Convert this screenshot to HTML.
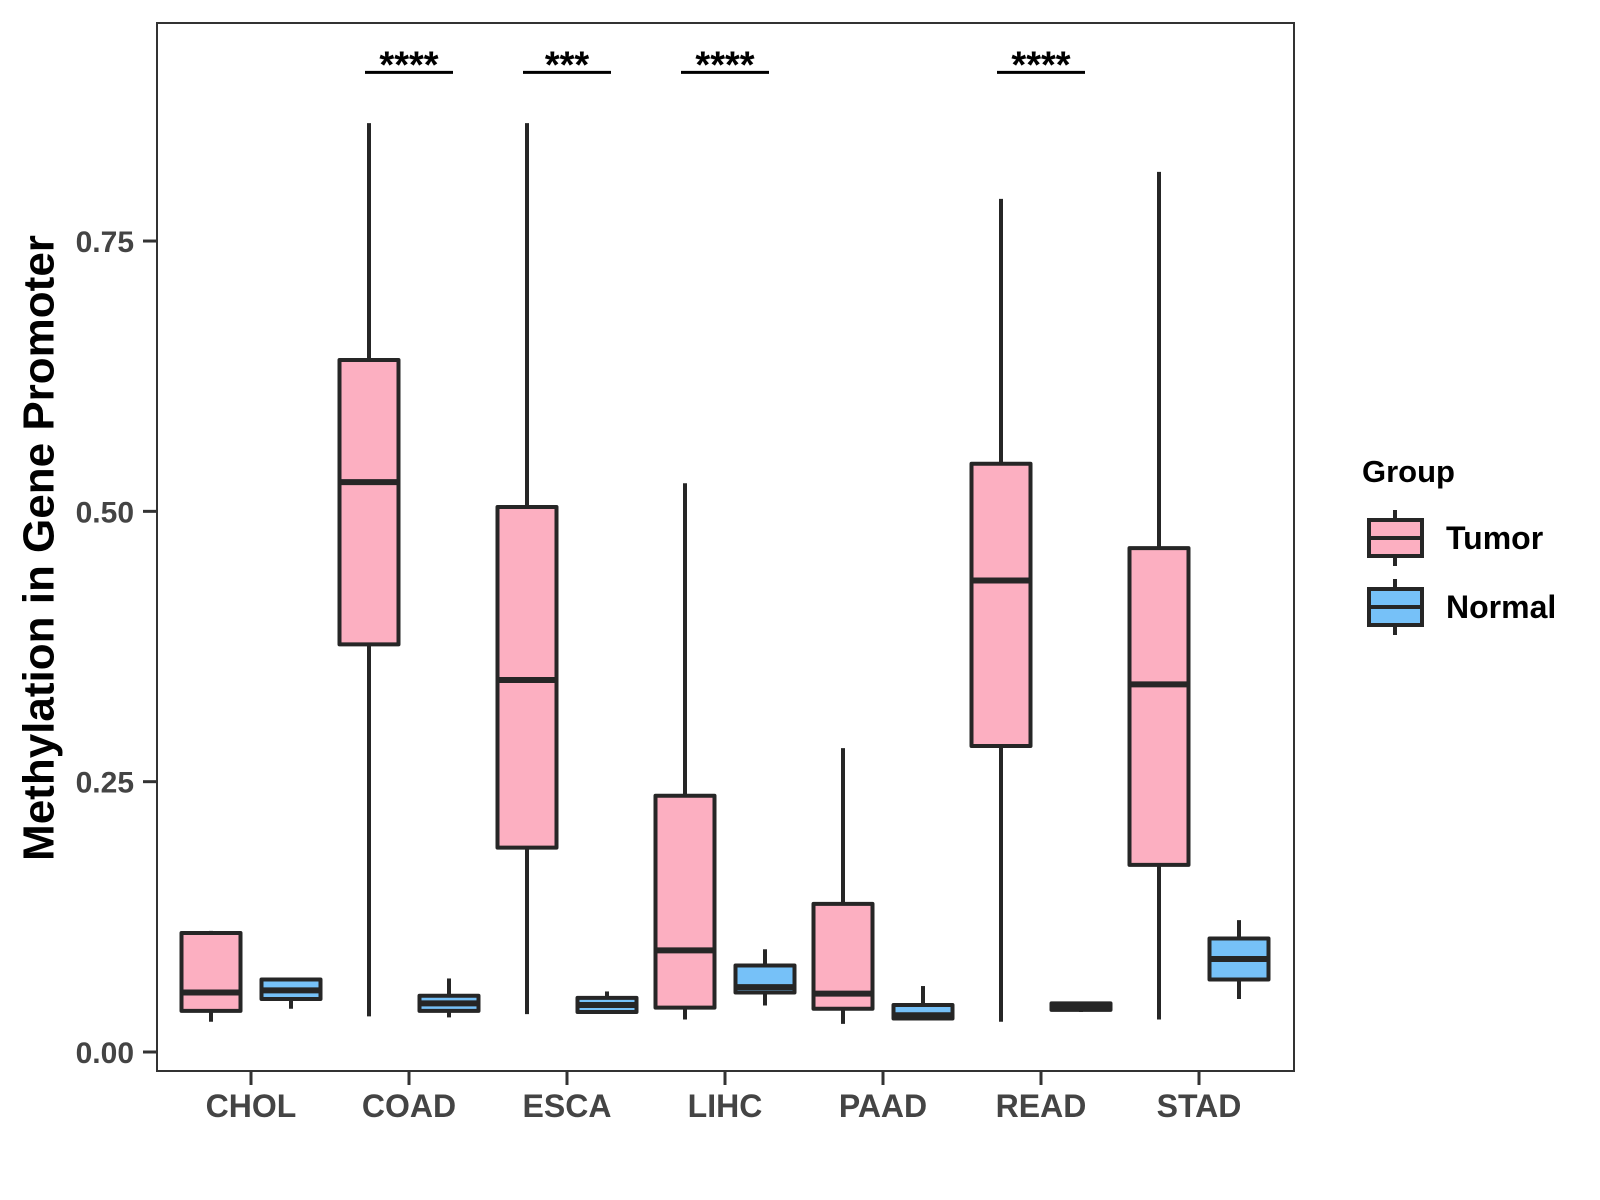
<!DOCTYPE html>
<html><head><meta charset="utf-8"><style>
html,body{margin:0;padding:0;background:#fff;width:1600px;height:1200px;overflow:hidden}
svg{display:block;font-family:"Liberation Sans",Arial,sans-serif}
</style></head><body>
<svg id="chart" width="1600" height="1200" viewBox="0 0 1600 1200">
<rect x="157" y="23" width="1137" height="1048" fill="#fff" stroke="#333" stroke-width="2"/>
<g id="marks"></g>
<g id="axes"></g>
<text x="39" y="548" transform="rotate(-90 39 548)" text-anchor="middle" dominant-baseline="central" font-size="44" font-weight="bold" fill="#000">Methylation in Gene Promoter</text>
<g>
<text x="1362" y="482" font-size="31" font-weight="bold" fill="#000">Group</text>
<g>
<line x1="1395" y1="510" x2="1395" y2="566" stroke="#262626" stroke-width="4"/>
<rect x="1369" y="520" width="53" height="36" fill="#fcafc1" stroke="#262626" stroke-width="4"/>
<line x1="1369" y1="538" x2="1422" y2="538" stroke="#262626" stroke-width="4"/>
<text x="1446" y="549" font-size="32" font-weight="bold" fill="#000">Tumor</text>
</g>
<g>
<line x1="1395" y1="579" x2="1395" y2="635" stroke="#262626" stroke-width="4"/>
<rect x="1369" y="589" width="53" height="36" fill="#76c1f8" stroke="#262626" stroke-width="4"/>
<line x1="1369" y1="607" x2="1422" y2="607" stroke="#262626" stroke-width="4"/>
<text x="1446" y="618" font-size="32" font-weight="bold" fill="#000">Normal</text>
</g>
</g>
</svg>
<script>
const categories=["CHOL","COAD","ESCA","LIHC","PAAD","READ","STAD"];
// [whiskerLow, q1, median, q3, whiskerHigh]
const tumorStats=[[0.028,0.038,0.055,0.110,0.112],[0.033,0.377,0.527,0.640,0.859],[0.035,0.189,0.344,0.504,0.859],[0.030,0.041,0.094,0.237,0.526],[0.026,0.040,0.054,0.137,0.281],[0.028,0.283,0.436,0.544,0.789],[0.030,0.173,0.340,0.466,0.814]];
const normalStats=[[0.040,0.049,0.057,0.067,0.067],[0.032,0.038,0.045,0.052,0.068],[0.036,0.037,0.0435,0.050,0.056],[0.043,0.055,0.060,0.080,0.095],[0.030,0.031,0.034,0.0435,0.061],[0.037,0.039,0.0425,0.045,0.046],[0.049,0.067,0.086,0.105,0.122]];
const yTicks=[0,0.25,0.5,0.75];
const yTickLabels=["0.00","0.25","0.50","0.75"];
const sigCategories=["COAD","ESCA","LIHC","READ"];
const sigLabels=["****","***","****","****"];
const sigLevel=0.906;

const NS="http://www.w3.org/2000/svg";
const y=v=>1052-v*1081.3;
const x=i=>251+i*158;
const marks=document.getElementById('marks'), axes=document.getElementById('axes');
function mk(tag,attrs,parent){const e=document.createElementNS(NS,tag);for(const k in attrs)e.setAttribute(k,attrs[k]);parent.appendChild(e);return e;}
function box(cx,s,fill,name){
  const g=mk('g',{},marks);
  
  
  const w=59;
  mk('line',{x1:cx,x2:cx,y1:y(s[4]),y2:y(s[0]),stroke:'#262626','stroke-width':4},g);
  mk('rect',{x:cx-w/2,y:y(s[3]),width:w,height:Math.max(1,y(s[1])-y(s[3])),fill:fill,stroke:'#262626','stroke-width':4,'stroke-linejoin':'round'},g);
  mk('line',{x1:cx-w/2,x2:cx+w/2,y1:y(s[2]),y2:y(s[2]),stroke:'#262626','stroke-width':6},g);
}
categories.forEach((c,i)=>{
  box(x(i)-40,tumorStats[i],'#fcafc1','box-tumor-'+c.toLowerCase());
  box(x(i)+40,normalStats[i],'#76c1f8','box-normal-'+c.toLowerCase());
  const t=mk('line',{x1:x(i),x2:x(i),y1:1071,y2:1085,stroke:'#333','stroke-width':3},axes);
  
  
  const l=mk('text',{x:x(i),y:1117,'text-anchor':'middle','font-size':32,'font-weight':'bold',fill:'#444'},axes);
  l.textContent=c;
  
  
});
yTicks.forEach((v,i)=>{
  const t=mk('line',{x1:143,x2:157,y1:y(v),y2:y(v),stroke:'#333','stroke-width':3},axes);
  
  
  const l=mk('text',{x:134,y:y(v)+11,'text-anchor':'end','font-size':30,'font-weight':'bold',fill:'#444'},axes);
  l.textContent=yTickLabels[i];
  
  
});
sigCategories.forEach((c,k)=>{
  const i=categories.indexOf(c);
  const g=mk('g',{},marks);
  
  
  mk('line',{x1:x(i)-44,x2:x(i)+44,y1:y(sigLevel),y2:y(sigLevel),stroke:'#000','stroke-width':3},g);
  const t=mk('text',{x:x(i),y:y(sigLevel)+5,'text-anchor':'middle','font-size':38,'font-weight':'bold',fill:'#000'},g);
  t.textContent=sigLabels[k];
});
</script>
</body></html>
